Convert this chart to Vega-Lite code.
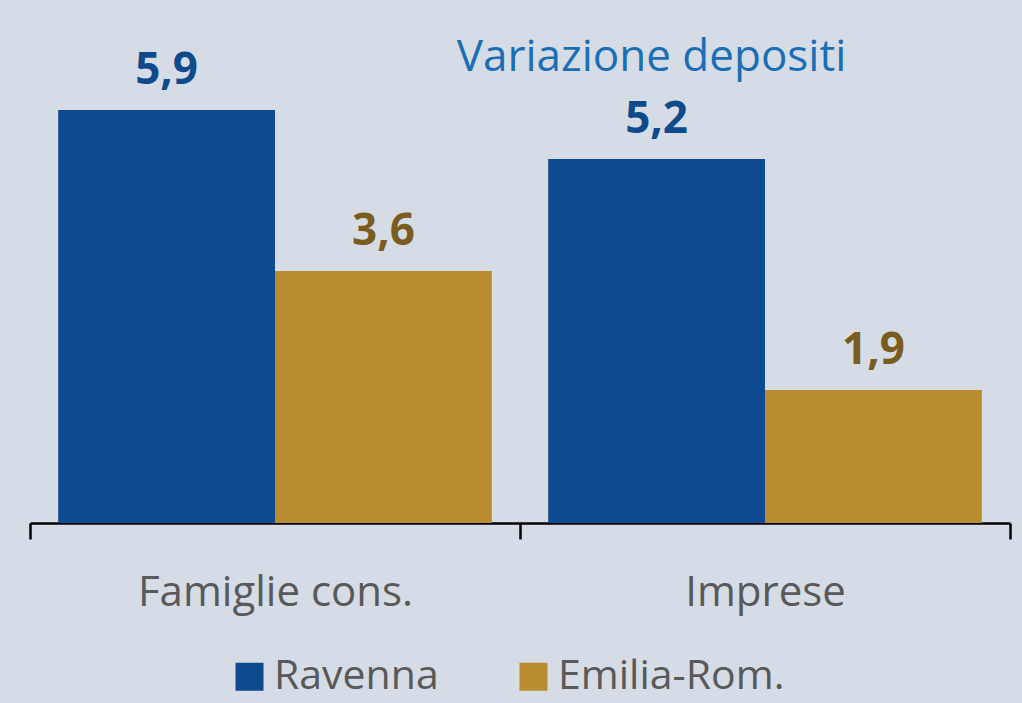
{
  "$schema": "https://vega.github.io/schema/vega-lite/v6.json",
  "autosize": "none",
  "width": 980,
  "height": 490,
  "padding": {"left": 30, "top": 33, "right": 12, "bottom": 180},
  "background": "#d6dce5",
  "config": {
    "view": {"stroke": null},
    "font": "Open Sans",
    "locale": {"number": {"decimal": ",", "thousands": ".", "grouping": [3], "currency": ["€", ""]}}
  },
  "title": {
    "text": "Variazione depositi",
    "anchor": "end",
    "orient": "top",
    "font": "Open Sans",
    "fontSize": 44,
    "fontWeight": "normal",
    "color": "#1a6eb6",
    "baseline": "alphabetic",
    "limit": 0,
    "dx": -165,
    "dy": 86
  },
  "data": {
    "values": [
      {"categoria": "Famiglie cons.", "area": "Ravenna", "valore": 5.9},
      {"categoria": "Famiglie cons.", "area": "Emilia-Rom.", "valore": 3.6},
      {"categoria": "Imprese", "area": "Ravenna", "valore": 5.2},
      {"categoria": "Imprese", "area": "Emilia-Rom.", "valore": 1.9}
    ]
  },
  "encoding": {
    "x": {
      "field": "categoria",
      "type": "nominal",
      "sort": ["Famiglie cons.", "Imprese"],
      "scale": {"paddingInner": 0, "paddingOuter": 0},
      "axis": {
        "title": null,
        "labelAngle": 0,
        "labelLimit": 0,
        "labelFont": "Open Sans",
        "labelFontSize": 42,
        "labelColor": "#595959",
        "labelBaseline": "alphabetic",
        "labelPadding": 66,
        "tickBand": "extent",
        "tickSize": 16,
        "tickWidth": 2.5,
        "tickColor": "#000000",
        "domainColor": "#000000",
        "domainWidth": 2.5
      }
    },
    "xOffset": {
      "field": "area",
      "type": "nominal",
      "sort": ["Ravenna", "Emilia-Rom."],
      "scale": {"paddingInner": 0, "paddingOuter": 0.13}
    },
    "y": {
      "field": "valore",
      "type": "quantitative",
      "scale": {"domain": [0, 7], "nice": false},
      "axis": null
    }
  },
  "layer": [
    {
      "mark": {"type": "bar"},
      "encoding": {
        "color": {
          "field": "area",
          "type": "nominal",
          "sort": ["Ravenna", "Emilia-Rom."],
          "scale": {"domain": ["Ravenna", "Emilia-Rom."], "range": ["#0d4a8f", "#b98c2f"]},
          "legend": {
            "title": null,
            "orient": "none",
            "direction": "horizontal",
            "legendX": 199,
            "legendY": 623,
            "symbolType": "square",
            "symbolSize": 784,
            "symbolStrokeWidth": 0,
            "labelFont": "Open Sans",
            "labelFontSize": 41,
            "labelLimit": 0,
            "labelColor": "#595959",
            "labelOffset": 4,
            "columnPadding": 74
          }
        }
      }
    },
    {
      "mark": {"type": "text", "baseline": "alphabetic", "dy": -26, "font": "Open Sans", "fontWeight": "bold", "fontSize": 44},
      "encoding": {
        "text": {"field": "valore", "type": "quantitative", "format": ".1f"},
        "color": {
          "field": "area",
          "type": "nominal",
          "scale": {"domain": ["Ravenna", "Emilia-Rom."], "range": ["#0f4a8c", "#7b5c1f"]},
          "legend": null
        }
      }
    }
  ],
  "resolve": {"scale": {"color": "independent"}}
}
